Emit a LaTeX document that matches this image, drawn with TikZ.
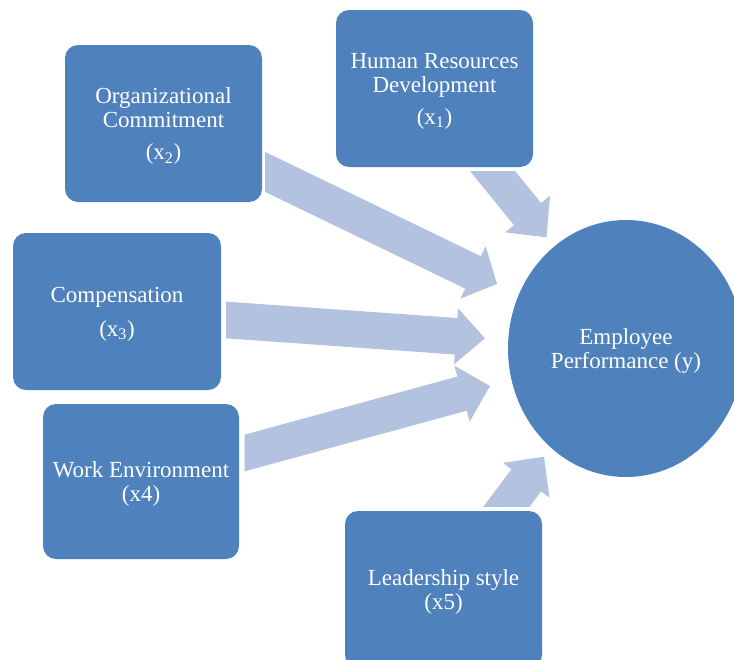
\documentclass[tikz,border=0pt]{standalone}
\usepackage{fontspec}
\setmainfont{Liberation Serif}
\usetikzlibrary{calc,shapes.geometric}
\definecolor{boxblue}{HTML}{4F81BD}
\definecolor{arrowblue}{HTML}{B3C2DE}
\tikzset{
  factor/.style={fill=boxblue, rounded corners=13pt, text=white, align=center,
    inner sep=0pt, text depth=0pt, font=\fontsize{23}{24}\selectfont},
  outcome/.style={ellipse, fill=boxblue, text=white, align=center,
    inner sep=0pt, text depth=0pt, font=\fontsize{23}{24}\selectfont},
  flow/.style={fill=arrowblue},
}
\newcommand\blockarrow[6]{%
  \coordinate (#6b) at ($(#2)!#5!(#1)$);
  \fill[flow] ($(#1)!#3!90:(#2)$) -- ($(#6b)!#3!90:(#2)$) -- ($(#6b)!#4!90:(#2)$)
    -- (#2) -- ($(#6b)!#4!-90:(#2)$) -- ($(#6b)!#3!-90:(#2)$)
    -- ($(#1)!#3!-90:(#2)$) -- cycle;
}
\begin{document}
\begin{tikzpicture}[x=1pt,y=-1pt]
\useasboundingbox (0,0) rectangle (734,659);
\clip (0,0) rectangle (734,659);
% arrow end points
\coordinate (t1) at (483.5,160);   \coordinate (p1) at (546.5,237.3);
\coordinate (t2) at (250,164.6);   \coordinate (p2) at (497,284);
\coordinate (t3) at (215,319.2);   \coordinate (p3) at (485,338.3);
\coordinate (t4) at (230,457);     \coordinate (p4) at (490,386);
\coordinate (t5) at (496.5,520);   \coordinate (p5) at (544,456.7);
\begin{scope}\clip (0,171.7) rectangle (734,659);
  \blockarrow{t1}{p1}{17.5pt}{29pt}{30pt}{a1}\end{scope}
\begin{scope}\clip (265,0) rectangle (734,659);
  \blockarrow{t2}{p2}{18pt}{29pt}{26.6pt}{a2}\end{scope}
\begin{scope}\clip (226,0) rectangle (734,659);
  \blockarrow{t3}{p3}{18.3pt}{28pt}{29pt}{a3}\end{scope}
\begin{scope}\clip (244.5,0) rectangle (734,659);
  \blockarrow{t4}{p4}{17.7pt}{29pt}{29pt}{a4}\end{scope}
\begin{scope}\clip (0,0) rectangle (734,506.5);
  \blockarrow{t5}{p5}{18.5pt}{29pt}{29.5pt}{a5}\end{scope}
% boxes
\node[factor, minimum width=197pt, minimum height=157pt] (hrd) at (434.5,88.5)
  {Human Resources\\Development\\[8pt](x\textsubscript{1})};
\node[factor, minimum width=197pt, minimum height=157pt] (org) at (163.5,123.5)
  {Organizational\\Commitment\\[8pt](x\textsubscript{2})};
\node[factor, minimum width=208pt, minimum height=157pt] (comp) at (117,311.5)
  {Compensation\\[10pt](x\textsubscript{3})};
\node[factor, minimum width=196pt, minimum height=155pt] (work) at (141,481.5)
  {Work Environment\\(x4)};
\node[factor, minimum width=197pt, minimum height=157pt] (lead) at (443.5,589.5)
  {Leadership style\\(x5)};
\node[outcome, minimum width=236pt, minimum height=257pt] (perf) at (626,348.5)
  {Employee\\Performance (y)};
\end{tikzpicture}
\end{document}
